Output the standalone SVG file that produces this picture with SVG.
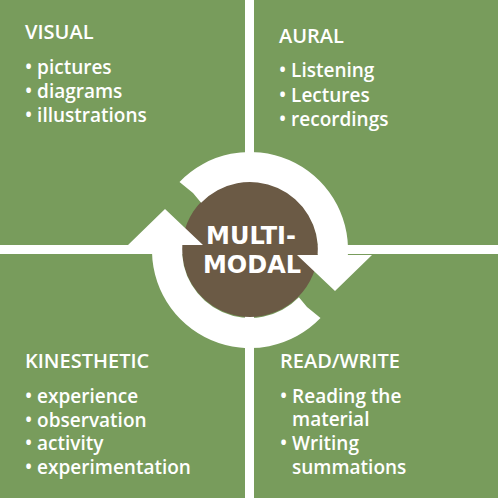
<svg xmlns="http://www.w3.org/2000/svg" width="500" height="500" viewBox="0 0 500 500">
<style>
.q{fill:#789c5c}
.t{font-family:"Open Sans","Liberation Sans",sans-serif;font-size:19px;font-weight:600;fill:#fff}
.h{font-family:"Open Sans","Liberation Sans",sans-serif;font-size:20px;font-weight:600;fill:#fff}
.c{font-family:"DejaVu Sans","Liberation Sans",sans-serif;font-size:24px;font-weight:bold;fill:#fff;text-anchor:middle}
</style>
<defs>
<path id="arrow" d="M179.5,181.9 A98,98 0 0 1 347.9,255 L372,255 L335,291 L297,255 L317.8,255 A68,68 0 0 0 201.1,202.8 L193,193 Z"/>
</defs>
<rect width="500" height="500" fill="#fff"/>
<g id="visual">
<rect class="q" x="0" y="0" width="245" height="245"/>
<text class="h" x="25" y="39">VISUAL</text>
<text class="t" x="25" y="74">• pictures</text>
<text class="t" x="25" y="98">• diagrams</text>
<text class="t" x="25" y="122">• illustrations</text>
</g>
<g id="aural">
<rect class="q" x="254" y="0" width="244" height="245"/>
<text class="h" x="279" y="43">AURAL</text>
<text class="t" x="279" y="77">• Listening</text>
<text class="t" x="279" y="102">• Lectures</text>
<text class="t" x="279" y="126">• recordings</text>
</g>
<g id="kinesthetic">
<rect class="q" x="0" y="254" width="245" height="244"/>
<text class="h" x="25" y="368">KINESTHETIC</text>
<text class="t" x="25" y="403">• experience</text>
<text class="t" x="25" y="427">• observation</text>
<text class="t" x="25" y="450">• activity</text>
<text class="t" x="25" y="474">• experimentation</text>
</g>
<g id="readwrite">
<rect class="q" x="254" y="254" width="244" height="244"/>
<text class="h" x="280" y="368">READ/WRITE</text>
<text class="t" x="280" y="403">• Reading the</text>
<text class="t" x="292" y="426">material</text>
<text class="t" x="280" y="450">• Writing</text>
<text class="t" x="292" y="474">summations</text>
</g>
<g id="multimodal">
<circle cx="250" cy="249" r="68" fill="#6b5a45"/>
<g id="connectors" fill="#fff">
<use href="#arrow"/>
<use href="#arrow" transform="rotate(180 250 250)"/>
</g>
<text class="c" x="251" y="244">MULTI-</text>
<text class="c" x="252" y="273">MODAL</text>
</g>
</svg>
